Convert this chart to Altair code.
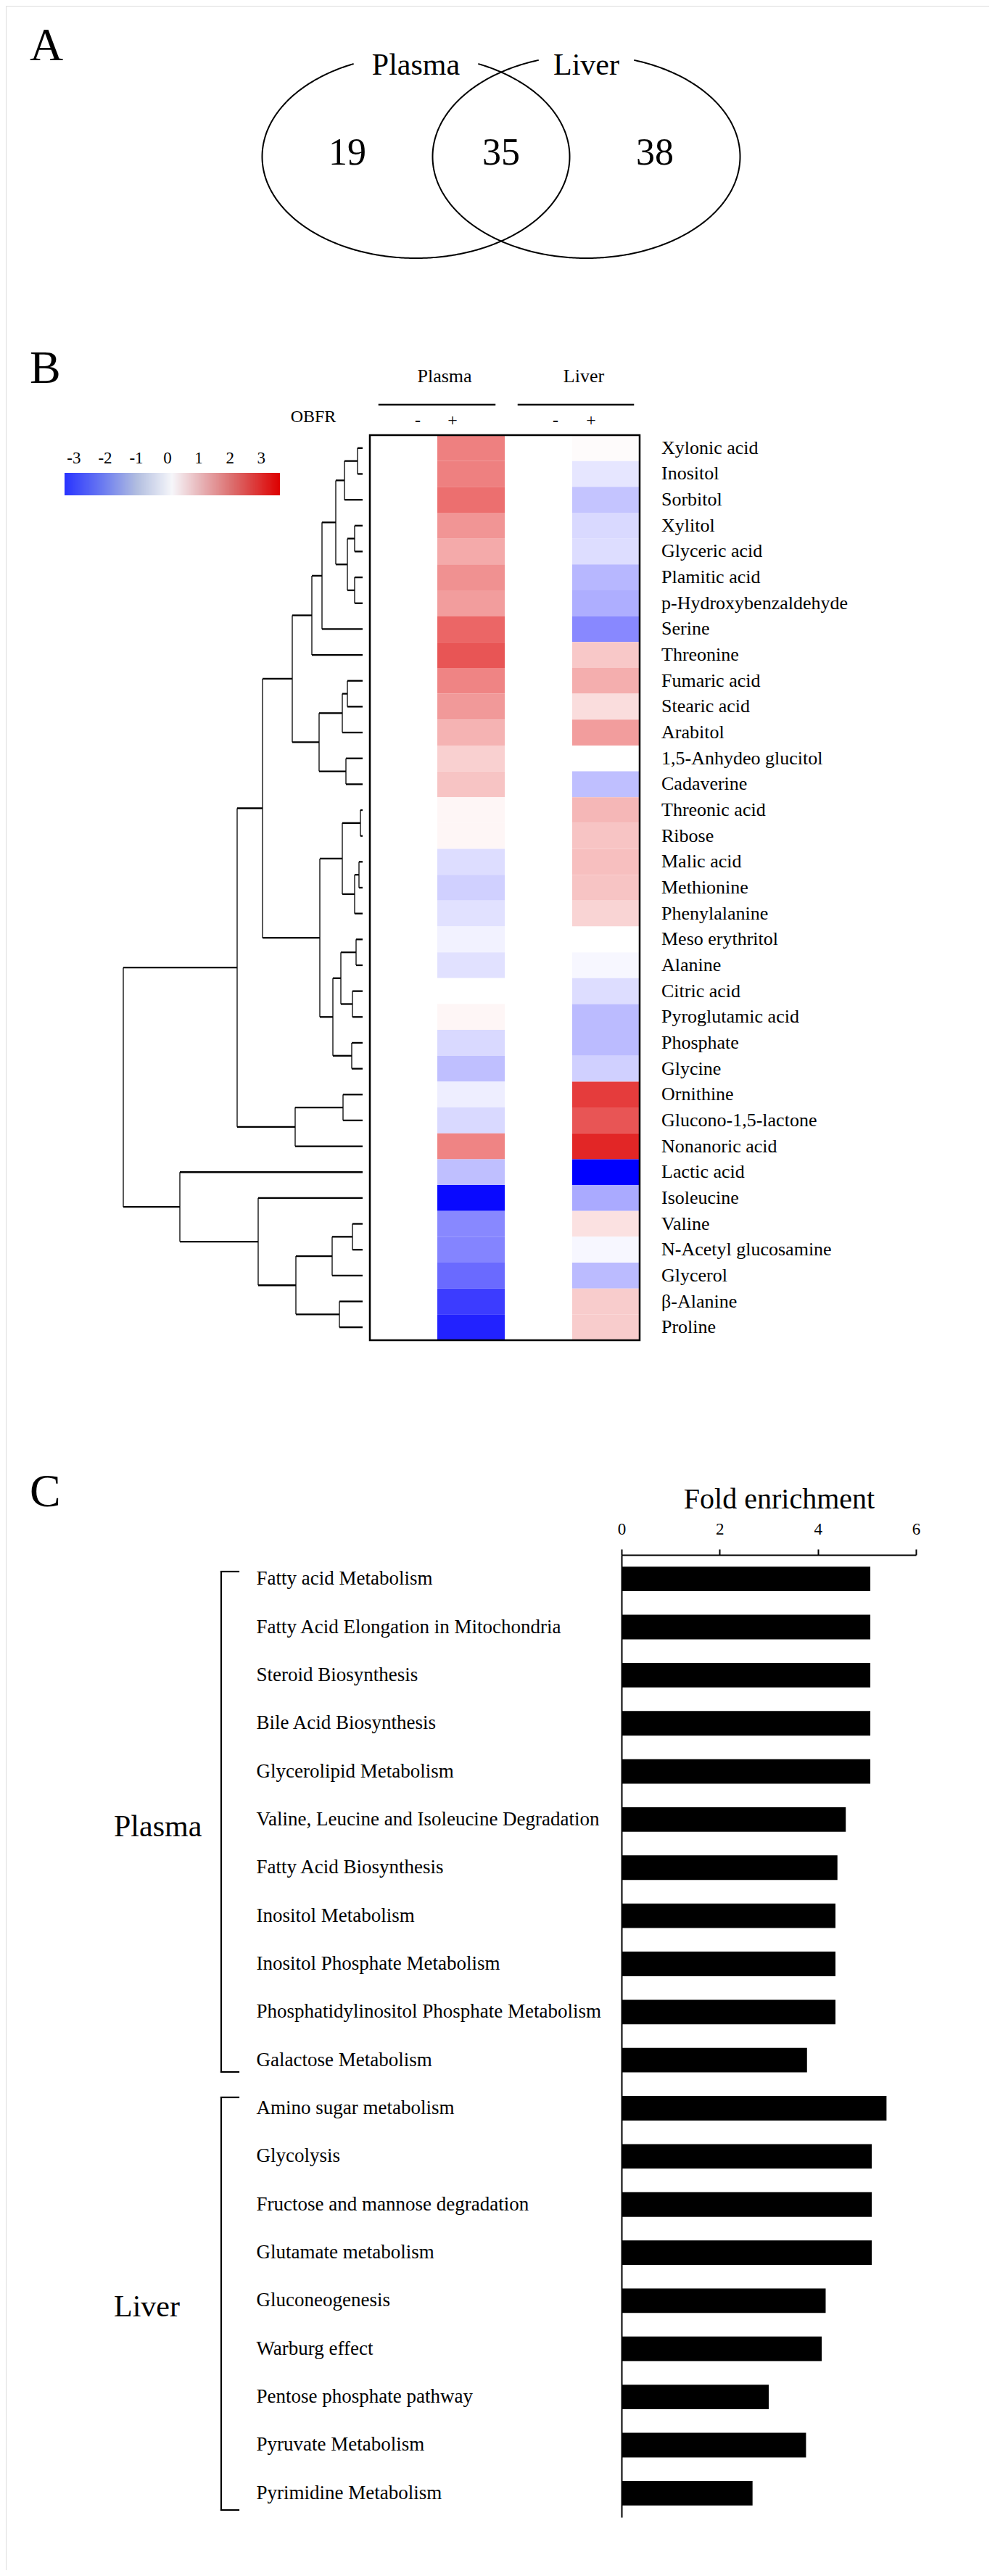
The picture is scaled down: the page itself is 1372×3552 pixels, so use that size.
import math
import numpy as np
import pandas as pd
import altair as alt

FONT = "Liberation Serif"
M = 8  # page margin: page coordinate -> chart coordinate = page - M

# ------------------------------------------------------------------ data
venn_sets = ["Plasma", "Liver"]
venn_counts = [19, 35, 38]          # plasma only, shared, liver only

metabolites = [
    "Xylonic acid", "Inositol", "Sorbitol", "Xylitol", "Glyceric acid",
    "Plamitic acid", "p-Hydroxybenzaldehyde", "Serine", "Threonine",
    "Fumaric acid", "Stearic acid", "Arabitol", "1,5-Anhydeo glucitol",
    "Cadaverine", "Threonic acid", "Ribose", "Malic acid", "Methionine",
    "Phenylalanine", "Meso erythritol", "Alanine", "Citric acid",
    "Pyroglutamic acid", "Phosphate", "Glycine", "Ornithine",
    "Glucono-1,5-lactone", "Nonanoric acid", "Lactic acid", "Isoleucine",
    "Valine", "N-Acetyl glucosamine", "Glycerol", "β-Alanine", "Proline",
]
plasma_plus = [1.5, 1.5, 1.7, 1.25, 1.0, 1.3, 1.15, 1.8, 2.0, 1.45, 1.2, 0.9,
               0.55, 0.7, 0.1, 0.1, -0.4, -0.55, -0.35, -0.15, -0.35, 0.0,
               0.1, -0.45, -0.75, -0.2, -0.45, 1.45, -0.75, -2.9, -1.4,
               -1.45, -1.75, -2.3, -2.6]
liver_plus = [0.05, -0.3, -0.7, -0.45, -0.4, -0.85, -0.95, -1.4, 0.65, 0.95,
              0.4, 1.15, 0.0, -0.75, 0.85, 0.7, 0.75, 0.7, 0.5, 0.0, -0.1,
              -0.4, -0.8, -0.8, -0.55, 2.3, 2.0, 2.55, -3.0, -1.0, 0.35,
              -0.1, -0.8, 0.6, 0.6]
plasma_minus = [0.0] * len(metabolites)
liver_minus = [0.0] * len(metabolites)

# dendrogram linkage: (child a, child b, merge height); leaves 0..34, merge k -> 35+k
linkage = [
    (0, 1, 7), (35, 2, 25), (3, 4, 11), (5, 6, 11), (37, 38, 21),
    (36, 39, 37), (40, 7, 56), (41, 8, 70), (9, 10, 21), (43, 11, 28),
    (12, 13, 23), (44, 45, 60), (42, 46, 97), (14, 15, 3), (16, 17, 5),
    (49, 18, 11), (48, 50, 28), (19, 20, 9), (21, 22, 14), (52, 53, 30),
    (23, 24, 15), (54, 55, 41), (51, 56, 59), (47, 57, 138), (25, 26, 27),
    (59, 27, 93), (58, 60, 173), (30, 31, 14), (62, 32, 42), (33, 34, 32),
    (63, 64, 92), (29, 65, 144), (28, 66, 252), (61, 67, 330),
]

colorbar_ticks = [-3, -2, -1, 0, 1, 2, 3]

pathways = [
    "Fatty acid Metabolism", "Fatty Acid Elongation in Mitochondria",
    "Steroid Biosynthesis", "Bile Acid Biosynthesis",
    "Glycerolipid Metabolism", "Valine, Leucine and Isoleucine Degradation",
    "Fatty Acid Biosynthesis", "Inositol Metabolism",
    "Inositol Phosphate Metabolism",
    "Phosphatidylinositol Phosphate Metabolism", "Galactose Metabolism",
    "Amino sugar metabolism", "Glycolysis", "Fructose and mannose degradation",
    "Glutamate metabolism", "Gluconeogenesis", "Warburg effect",
    "Pentose phosphate pathway", "Pyruvate Metabolism", "Pyrimidine Metabolism",
]
fold_enrichment = [5.07, 5.07, 5.07, 5.07, 5.07, 4.57, 4.40, 4.36, 4.36, 4.36,
                   3.78, 5.40, 5.10, 5.10, 5.10, 4.16, 4.08, 3.00, 3.76, 2.67]

# ------------------------------------------------------------------ helpers
ONE = pd.DataFrame({"k": [0]})


def label(text, x, y, size, align="left", baseline="alphabetic"):
    return alt.Chart(ONE).mark_text(
        text=text, font=FONT, fontSize=size, align=align, baseline=baseline,
        color="black").encode(x=alt.value(x - M), y=alt.value(y - M))


def rule(x, y, x2=None, y2=None, w=2.0):
    enc = dict(x=alt.value(x - M), y=alt.value(y - M))
    if x2 is not None:
        enc["x2"] = alt.value(x2 - M)
    if y2 is not None:
        enc["y2"] = alt.value(y2 - M)
    return alt.Chart(ONE).mark_rule(color="black", strokeWidth=w,
                                    strokeCap="square").encode(**enc)


layers = []

# ------------------------------------------------------------------ panel A (Venn)
half = 117.5 / 212.0            # half distance between centres, in radius units
venn_x = alt.Scale(domain=[-1 - half, 1 + half],
                   range=[691 - 212 * (1 + half) - M, 691 + 212 * (1 + half) - M],
                   nice=False, zero=False)
venn_y = alt.Scale(domain=[-1, 1], range=[356 - M, 76 - M], nice=False, zero=False)

ell_rows = []
for name, cx, gap in [("Plasma", -half, 0.405), ("Liver", half, 0.31)]:
    t0 = math.acos(gap)
    ts = np.linspace(math.pi - t0, 2 * math.pi + t0, 500)
    for i, t in enumerate(ts):
        ell_rows.append({"set": name, "u": cx + math.cos(t), "v": math.sin(t), "i": i})
ell_df = pd.DataFrame(ell_rows)
layers.append(alt.Chart(ell_df).mark_line(color="black", strokeWidth=2).encode(
    x=alt.X("u:Q", scale=venn_x, axis=None),
    y=alt.Y("v:Q", scale=venn_y, axis=None),
    detail="set:N", order="i:Q"))

region_mid = (1 + half + (1 - half)) / 2     # centre of each exclusive region
count_df = pd.DataFrame({
    "u": [-region_mid, 0.0, region_mid],
    "v": [0.035] * 3,
    "n": [str(c) for c in venn_counts]})
layers.append(alt.Chart(count_df).mark_text(font=FONT, fontSize=52, baseline="middle",
                                            color="black").encode(
    x=alt.X("u:Q", scale=venn_x, axis=None),
    y=alt.Y("v:Q", scale=venn_y, axis=None), text="n:N"))

set_df = pd.DataFrame({"u": [-half, half], "v": [0.9, 0.9], "s": venn_sets})
layers.append(alt.Chart(set_df).mark_text(font=FONT, fontSize=42, baseline="middle",
                                          color="black").encode(
    x=alt.X("u:Q", scale=venn_x, axis=None),
    y=alt.Y("v:Q", scale=venn_y, axis=None), text="s:N"))

# ------------------------------------------------------------------ panel B (heatmap)
n = len(metabolites)
col_x = alt.Scale(domain=[0, 4], range=[510 - M, 882 - M], nice=False, zero=False)
row_y = alt.Scale(domain=[0, n], range=[600 - M, 1848 - M], nice=False, zero=False)
color_scale = alt.Scale(domain=[-3, 0, 3], range=["#0000ff", "#ffffff", "#dd0000"],
                        clamp=True, interpolate="rgb")

cells = []
for i, m in enumerate(metabolites):
    for j, vals in enumerate([plasma_minus, plasma_plus, liver_minus, liver_plus]):
        cells.append({"m": m, "x0": j, "x1": j + 1, "y0": i, "y1": i + 1, "value": vals[i]})
cell_df = pd.DataFrame(cells)
layers.append(alt.Chart(cell_df).mark_rect(strokeWidth=0).encode(
    x=alt.X("x0:Q", scale=col_x, axis=None), x2="x1:Q",
    y=alt.Y("y0:Q", scale=row_y, axis=None), y2="y1:Q",
    color=alt.Color("value:Q", scale=color_scale, legend=None)))

frame_df = pd.DataFrame({"x0": [0], "x1": [4], "y0": [0], "y1": [n]})
layers.append(alt.Chart(frame_df).mark_rect(filled=False, stroke="black",
                                            strokeWidth=2.5).encode(
    x=alt.X("x0:Q", scale=col_x, axis=None), x2="x1:Q",
    y=alt.Y("y0:Q", scale=row_y, axis=None), y2="y1:Q"))

lab_df = pd.DataFrame({"m": metabolites, "yc": [i + 0.5 for i in range(n)]})
layers.append(alt.Chart(lab_df).mark_text(font=FONT, fontSize=26, align="left",
                                          baseline="middle", color="black").encode(
    x=alt.value(912 - M), y=alt.Y("yc:Q", scale=row_y, axis=None), text="m:N"))

# dendrogram
pos = {i: (0.0, i + 0.5) for i in range(n)}
hseg, vseg = [], []
for k, (a, b, h) in enumerate(linkage):
    (ha, ya), (hb, yb) = pos[a], pos[b]
    hseg.append({"d0": ha, "d1": h, "y": ya})
    hseg.append({"d0": hb, "d1": h, "y": yb})
    vseg.append({"d": h, "y0": ya, "y1": yb})
    pos[n + k] = (h, (ya + yb) / 2)
dendro_x = alt.Scale(domain=[0, 330], range=[500 - M, 170 - M], nice=False, zero=False)
layers.append(alt.Chart(pd.DataFrame(hseg)).mark_rule(color="black", strokeWidth=2.3).encode(
    x=alt.X("d0:Q", scale=dendro_x, axis=None), x2="d1:Q",
    y=alt.Y("y:Q", scale=row_y, axis=None)))
layers.append(alt.Chart(pd.DataFrame(vseg)).mark_rule(color="black", strokeWidth=1.3).encode(
    x=alt.X("d:Q", scale=dendro_x, axis=None),
    y=alt.Y("y0:Q", scale=row_y, axis=None), y2="y1:Q"))

# headers
layers += [
    label("Plasma", 613, 519, 26, "center", "middle"),
    label("Liver", 805, 519, 26, "center", "middle"),
    rule(523, 558, x2=682, w=2.5),
    rule(715, 558, x2=873, w=2.5),
    label("OBFR", 432, 575, 24, "center", "middle"),
    label("-", 576, 580, 24, "center", "middle"),
    label("+", 624, 580, 24, "center", "middle"),
    label("-", 766, 580, 24, "center", "middle"),
    label("+", 815, 580, 24, "center", "middle"),
]

# colour bar (gradient as drawn in the figure's key)
cb_x = alt.Scale(domain=[-3.3, 3.6], range=[89 - M, 386 - M], nice=False, zero=False)
cb_color = alt.Scale(domain=[-3.3, -2.04, -0.99, 0.13, 0.99, 2.03, 3.6],
                     range=["#2a35ff", "#6e7ef0", "#b2bee0", "#f6f6fa",
                            "#e8b8bc", "#dc7070", "#dd0000"],
                     clamp=True, interpolate="rgb")
cb_v = np.round(np.arange(-3.3, 3.6, 0.025), 4)
cb_df = pd.DataFrame({"v": cb_v, "v2": np.minimum(cb_v + 0.06, 3.6), "cb": cb_v})
layers.append(alt.Chart(cb_df).mark_rect(strokeWidth=0).encode(
    x=alt.X("v:Q", scale=cb_x, axis=None), x2="v2:Q",
    y=alt.value(652 - M), y2=alt.value(683 - M),
    color=alt.Color("cb:Q", scale=cb_color, legend=None)))
cbt_df = pd.DataFrame({"t": colorbar_ticks, "s": [str(t) for t in colorbar_ticks]})
layers.append(alt.Chart(cbt_df).mark_text(font=FONT, fontSize=23, baseline="middle",
                                          color="black").encode(
    x=alt.X("t:Q", scale=cb_x, axis=None), y=alt.value(632 - M), text="s:N"))

# ------------------------------------------------------------------ panel C (bars)
bar_df = pd.DataFrame({"pathway": pathways, "fold": fold_enrichment})
bar_x = alt.Scale(domain=[0, 6], range=[857 - M, 1263 - M], nice=False, zero=True)
bar_y = alt.Scale(domain=pathways, range=[2144 - M, 3471 - M],
                  paddingInner=0.49, paddingOuter=0.245)
layers.append(alt.Chart(bar_df).mark_bar(color="black").encode(
    x=alt.X("fold:Q", scale=bar_x,
            axis=alt.Axis(orient="top", offset=-(2144 - M), values=[0, 2, 4, 6],
                          format="d", tickSize=8, tickWidth=2, tickColor="black",
                          domainColor="black", domainWidth=2, grid=False,
                          labelFont=FONT, labelFontSize=23, labelColor="black",
                          labelPadding=16, labelFlush=False,
                          title="Fold enrichment", titleFont=FONT, titleFontSize=40,
                          titleFontWeight="normal", titleColor="black",
                          titlePadding=10, titleX=1074 - M)),
    y=alt.Y("pathway:N", scale=bar_y, sort=pathways,
            axis=alt.Axis(orient="left", offset=-(857 - M), ticks=False, tickSize=0,
                          domainColor="black", domainWidth=2, grid=False,
                          labelFont=FONT, labelFontSize=27, labelColor="black",
                          labelAlign="left", labelPadding=(857 - 353),
                          labelLimit=900, title=None))))

layers += [
    rule(305, 2167, y2=2857, w=2.2), rule(305, 2167, x2=329, w=2.2),
    rule(305, 2857, x2=329, w=2.2),
    rule(305, 2892, y2=3461, w=2.2), rule(305, 2892, x2=329, w=2.2),
    rule(305, 3461, x2=329, w=2.2),
    label("Plasma", 157, 2519, 42, "left", "middle"),
    label("Liver", 157, 3181, 42, "left", "middle"),
]

# panel letters
layers += [
    label("A", 41, 83, 64),
    label("B", 41, 528, 64),
    label("C", 41, 2077, 64),
]

chart = alt.layer(*layers).resolve_scale(
    x="independent", y="independent", color="independent"
).properties(
    width=1372 - 2 * M, height=3552 - 2 * M,
    autosize=alt.AutoSizeParams(type="none"), padding=0,
).configure_view(stroke=None).configure(background="white")

chart.save("out.html", embed_options={"renderer": "svg", "actions": False})
